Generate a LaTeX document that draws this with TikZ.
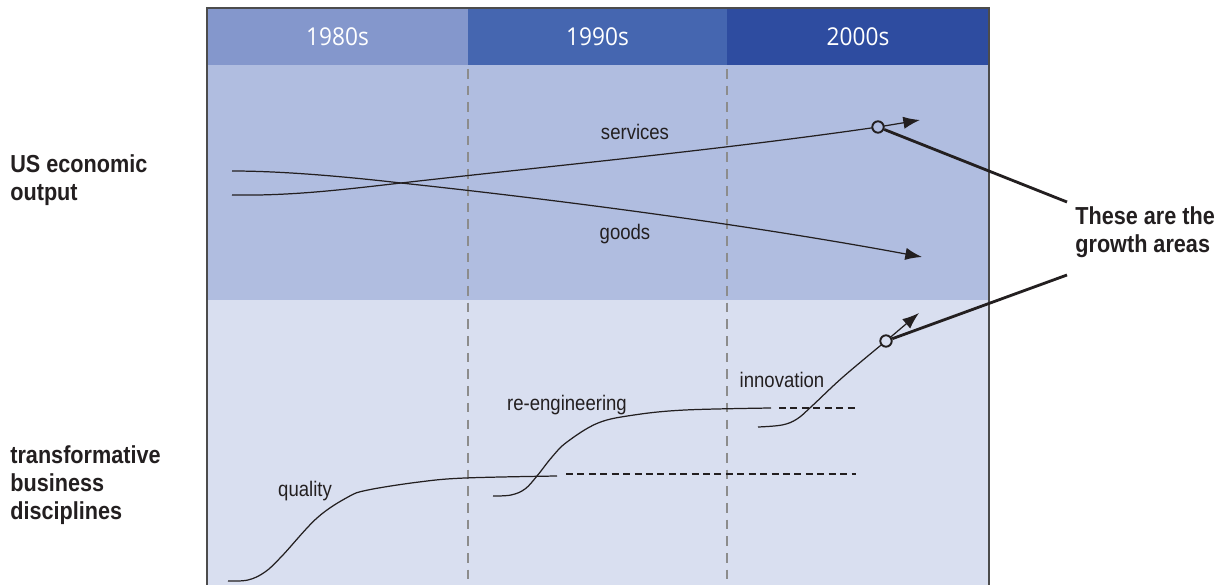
\documentclass[tikz,border=0pt]{standalone}
\usepackage{fontspec}
\setmainfont{Liberation Sans}[FakeStretch=0.88]
\newfontfamily\headfont{Open Sans}[FakeStretch=0.92]
\usetikzlibrary{calc,arrows.meta}
\definecolor{head80}{RGB}{132,151,204}
\definecolor{head90}{RGB}{69,102,176}
\definecolor{head00}{RGB}{46,76,160}
\definecolor{upperband}{RGB}{176,189,224}
\definecolor{lowerband}{RGB}{217,223,240}
\definecolor{ink}{RGB}{35,31,32}

\begin{document}
\begin{tikzpicture}[x=0.02cm,y=-0.02cm,
                    curve/.style={draw=ink,line width=0.7pt},
                    trendtip/.style={-{Latex[length=9.5pt,width=7pt]}},
                    ring/.style={circle,draw=ink,line width=1.1pt,inner sep=0,minimum size=6.5pt},
                    callout/.style={draw=ink,line width=1.6pt},
                    plateau/.style={draw=ink,line width=0.7pt,dash pattern=on 4pt off 2.5pt},
                    lbl/.style={font=\fontsize{12}{14}\selectfont,text=ink,inner sep=0,anchor=base},
                    side/.style={font=\fontsize{14}{16}\selectfont\bfseries,text=ink,align=left,inner sep=0,anchor=north west}]
  \useasboundingbox (0,0) rectangle (1225,585);
  \clip (0,0) rectangle (1225,585);
  \fill[upperband] (207,65) rectangle (989,300);
  \fill[lowerband] (207,300) rectangle (989,590);
  \foreach \xa/\xb/\col/\dec in {207/468/head80/1980s,468/727/head90/1990s,727/989/head00/2000s} {
    \fill[\col] (\xa,8) rectangle (\xb,65);
    \node[text=white,font=\headfont\fontsize{14}{16}\selectfont] (d\dec) at ({(\xa+\xb)/2},37) {\dec};
  }
  \foreach \x in {468,727}
    \draw[black!45,line width=0.6pt,dash pattern=on 5.5pt off 4pt] (\x,69) -- (\x,590);
  \draw[black!70,line width=0.8pt] (207,590) -- (207,8) -- (989,8) -- (989,590);

  % US economic output
  \coordinate (peakS) at (878,127);
  \draw[curve,trendtip] (232,195) .. controls (290,196) and (340,190) .. (401,183)
        .. controls (550,166) and (720,150) .. (peakS) -- (920,120);
  \draw[curve,trendtip] (232,171) .. controls (280,171) and (340,176) .. (401,183)
        .. controls (560,200) and (750,225) .. (922,257);
  \node[lbl] (services) at (635,139) {services};
  \node[lbl] (goods) at (625,239) {goods};

  % transformative business disciplines
  \coordinate (peakI) at (886,341);
  \draw[curve] plot[smooth,tension=0.6] coordinates {(228,581) (248,580) (265,572) (282,556) (317,518) (348,497) (368,490) (419,482) (465,478) (557,476)};
  \draw[curve] plot[smooth,tension=0.6] coordinates {(493,496) (511,495) (525,489) (537,476) (552,457) (567,442) (598,423) (634,415) (685,410) (771,408)};
  \draw[curve,trendtip] plot[smooth,tension=0.6] coordinates {(758,427) (782,425) (797,419) (812,406) (843,377) (peakI)} -- (919,313);
  \draw[plateau] (566,474) -- (856,474);
  \draw[plateau] (779,408) -- (856,408);
  \node[lbl] (quality) at (305,496) {quality};
  \node[lbl] (reeng) at (567,410) {re-engineering};
  \node[lbl] (innov) at (782,387) {innovation};

  \node[side] (usout) at (10,154) {US economic\\output};
  \node[side] (tbd) at (10,445) {transformative\\business\\disciplines};
  \node[side] (growth) at (1075,206) {These are the\\growth areas};

  \node[ring,fill=upperband] (ringS) at (peakS) {};
  \node[ring,fill=lowerband] (ringI) at (peakI) {};
  \draw[callout] (ringS) -- ($(growth.north west)+(-8,-4)$);
  \draw[callout] (ringI) -- ($(growth.north west)+(-8,69)$);
\end{tikzpicture}
\end{document}
